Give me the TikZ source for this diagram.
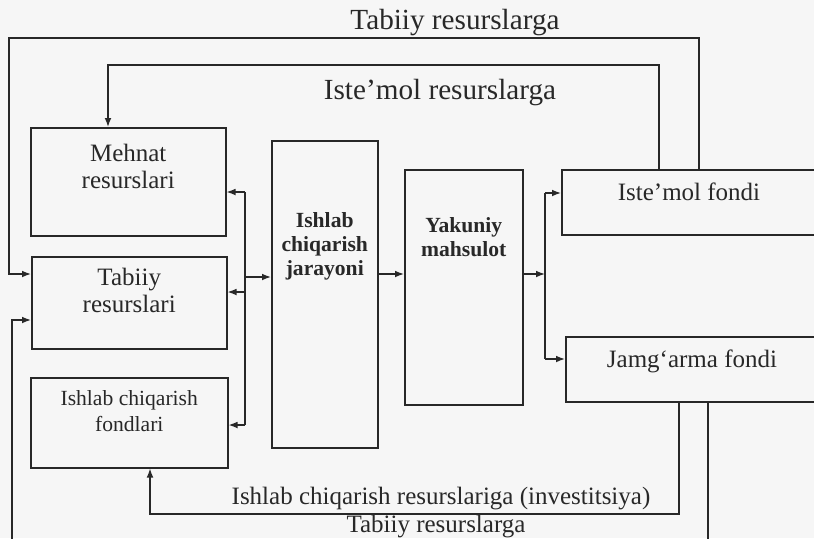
\documentclass[tikz,border=0pt]{standalone}
\usepackage{fontspec}
\setmainfont{Liberation Serif}
\usetikzlibrary{arrows.meta}
\definecolor{ink}{RGB}{40,40,40}
\definecolor{paper}{RGB}{246,246,246}

\begin{document}
\begin{tikzpicture}[x=0.5pt, y=-0.5pt, line width=0.75pt, color=ink,
      box/.style={draw, rectangle, anchor=north west, inner sep=0pt},
      arr/.style={-{Latex[length=4.5pt,width=3.4pt]}},
      txt/.style={font=\fontsize{12.5}{13.5}\selectfont, align=center},
      small/.style={font=\fontsize{10.8}{13}\selectfont, align=center},
      bold/.style={font=\fontsize{10.8}{12}\selectfont\bfseries, align=center},
      big/.style={font=\fontsize{14.6}{16}\selectfont}]
      \fill[paper] (0,0) rectangle (814,538);
      \useasboundingbox (0,0) rectangle (814,538);
      \clip (0,0) rectangle (814,538);

      % boxes
      \node[box, minimum width=97.5pt, minimum height=54pt] (mehnat) at (30,127) {};
      \node[box, minimum width=97.5pt, minimum height=46pt] (tabiiy) at (31,256) {};
      \node[box, minimum width=98.5pt, minimum height=45pt] (fond) at (30,377) {};
      \node[box, minimum width=53pt, minimum height=153.5pt] (jarayon) at (271,140) {};
      \node[box, minimum width=59pt, minimum height=117.5pt] (yakun) at (404,169) {};
      \node[box, minimum width=128pt, minimum height=32.5pt] (istemol) at (561,169) {};
      \node[box, minimum width=127.5pt, minimum height=32.5pt] (jamgarma) at (565,336) {};

      \node[txt] (mehnatT) at (mehnat.north |- 0,166) {Mehnat\\resurslari};
      \node[txt] (tabiiyT) at (tabiiy.north |- 0,290) {Tabiiy\\resurslari};
      \node[small] (fondT) at (fond.north |- 0,411) {Ishlab chiqarish\\fondlari};
      \node[bold] (jarayonT) at (jarayon.north |- 0,246) {Ishlab\\chiqarish\\jarayoni};
      \node[bold] (yakunT) at (yakun.north |- 0,237) {Yakuniy\\mahsulot};
      \node[txt] (istemolT) at (689,192) {Iste'mol fondi};
      \node[txt] (jamgarmaT) at (692,361) {Jamg‘arma fondi};

      % left bus
      \draw (245,192) -- (245,425);
      \draw[arr] (245,192) -- (mehnat.east |- 0,192);
      \draw[arr] (245,292) -- (tabiiy.east |- 0,292);
      \draw[arr] (245,425) -- (fond.east |- 0,425);
      \draw[arr] (245,277) -- (jarayon.west |- 0,277);
      \draw[arr] (jarayon.east |- 0,274) -- (yakun.west |- 0,274);

      % right bus
      \draw (545,193) -- (545,359);
      \draw[arr] (yakun.east |- 0,274) -- (545,274);
      \draw[arr] (545,193) -- (istemol.west |- 0,193);
      \draw[arr] (545,359) -- (jamgarma.west |- 0,359);

      % feedback loops
      \draw[arr] (istemol.north -| 699,0) |- (9,38) |- (tabiiy.west |- 0,274);
      \draw[arr] (istemol.north -| 659,0) |- (108,65) -- (mehnat.north -| 108,0);
      \draw[arr] (jamgarma.south -| 679,0) |- (150,514) -- (fond.south -| 150,0);
      \draw[arr] (jamgarma.south -| 708,0) -- (708,548) -| (12,320) -- (tabiiy.west |- 0,320);

      \node[big] (topL) at (455,23) {Tabiiy resurslarga};
      \node[big] (midL) at (440,93) {Iste'mol resurslarga};
      \node[txt] (invL) at (441,499) {Ishlab chiqarish resurslariga (investitsiya)};
      \node[txt, inner sep=0.5pt] (botL) at (436,527) {Tabiiy resurslarga};
      \end{tikzpicture}
\end{document}
